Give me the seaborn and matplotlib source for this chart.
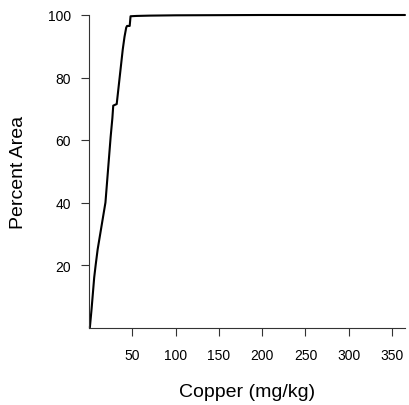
import matplotlib
matplotlib.use("Agg")
import matplotlib.pyplot as plt
import seaborn as sns
import pandas as pd

# cumulative percent area vs copper concentration
copper = [1, 3, 4.5, 6, 7.7, 10, 13, 16, 19, 21, 23, 25, 27, 28, 32, 33,
          35, 37, 39, 41, 43, 44, 47, 48, 55, 70, 100, 150, 200, 250, 300, 365]
pct_area = [0, 6, 11, 16, 20, 25, 30, 35, 40, 47, 54, 61, 67, 71, 71.5, 74,
            79, 84, 89, 93, 96, 96.5, 96.5, 99.6, 99.7, 99.8, 99.9, 99.95, 100, 100, 100, 100]

x_ticks = [50, 100, 150, 200, 250, 300, 350]
y_ticks = [20, 40, 60, 80, 100]

df = pd.DataFrame({"copper": copper, "pct": pct_area})

sns.set_theme(style="ticks")
plt.rcParams["font.family"] = ["Liberation Sans", "DejaVu Sans"]
plt.rcParams["text.color"] = "black"
plt.rcParams["axes.labelcolor"] = "black"
plt.rcParams["xtick.color"] = "black"
plt.rcParams["ytick.color"] = "black"

fig = plt.figure(figsize=(4.09, 4.06), dpi=100)
ax = fig.add_axes([89 / 409, 1 - 328.5 / 406, 316 / 409, 312.5 / 406])

sns.lineplot(data=df, x="copper", y="pct", ax=ax, color="black", linewidth=1.5,
             sort=False, clip_on=False)

ax.set_xlim(0, 365)
ax.set_ylim(0, 100)
ax.set_xticks(x_ticks)
ax.set_yticks(y_ticks)
ax.tick_params(axis="both", labelsize=10, length=6, width=0.8, color="#333333")
ax.tick_params(axis="x", pad=9)
ax.tick_params(axis="y", pad=7)
ax.set_xlabel("Copper (mg/kg)", fontsize=14, labelpad=15)
ax.set_ylabel("Percent Area", fontsize=14, labelpad=15)
for side in ["top", "right"]:
    ax.spines[side].set_visible(False)
for side in ["left", "bottom"]:
    ax.spines[side].set_linewidth(0.8)
    ax.spines[side].set_color("#333333")

fig.savefig("out.png", dpi=100)
